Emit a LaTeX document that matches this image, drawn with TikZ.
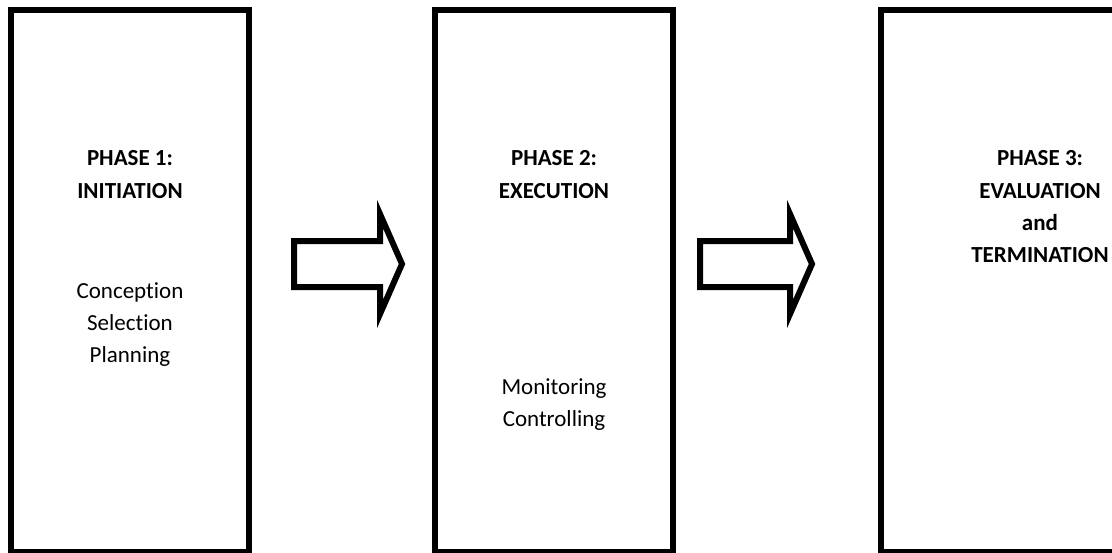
\documentclass[tikz,border=0pt]{standalone}
\usepackage{fontspec}
\setmainfont[Ligatures=NoCommon]{Carlito}
\begin{document}
\begin{tikzpicture}[x=1pt,y=-1pt,
  phasebox/.style={line width=6pt,line join=miter},
  bigarrow/.style={line width=6pt,line join=miter,miter limit=10},
  lbl/.style={anchor=base,inner sep=0pt,font=\fontsize{23}{32}\selectfont},
  hd/.style={lbl,font=\fontsize{23}{32}\selectfont\bfseries}]
\useasboundingbox (0,0) rectangle (1112,552);
% boxes
\draw[phasebox] (11,10) rectangle (249,552);
\draw[phasebox] (435,10) rectangle (673,552);
\draw[phasebox] (881,10) rectangle (1215,552);
% arrows
\draw[bigarrow] (294,241) -- (380,241) -- (380,214) -- (402,264) -- (380,314) -- (380,287) -- (294,287) -- cycle;
\draw[bigarrow] (700,241) -- (790,241) -- (790,214) -- (812,264) -- (790,314) -- (790,287) -- (700,287) -- cycle;
% phase 1
\node[hd] (p1a) at (130,165) {PHASE 1:};
\node[hd] (p1b) at (130,198) {INITIATION};
\node[lbl] (p1c) at (130,298) {Conception};
\node[lbl] (p1d) at (130,330) {Selection};
\node[lbl] (p1e) at (130,362) {Planning};
% phase 2
\node[hd] (p2a) at (554,165) {PHASE 2:};
\node[hd] (p2b) at (554,198) {EXECUTION};
\node[lbl] (p2c) at (554,394) {Monitoring};
\node[lbl] (p2d) at (554,426) {Controlling};
% phase 3
\node[hd] (p3a) at (1040,165) {PHASE 3:};
\node[hd] (p3b) at (1040,198) {EVALUATION};
\node[hd] (p3c) at (1040,230) {and};
\node[hd] (p3d) at (1040,262) {TERMINATION};
\end{tikzpicture}
\end{document}
